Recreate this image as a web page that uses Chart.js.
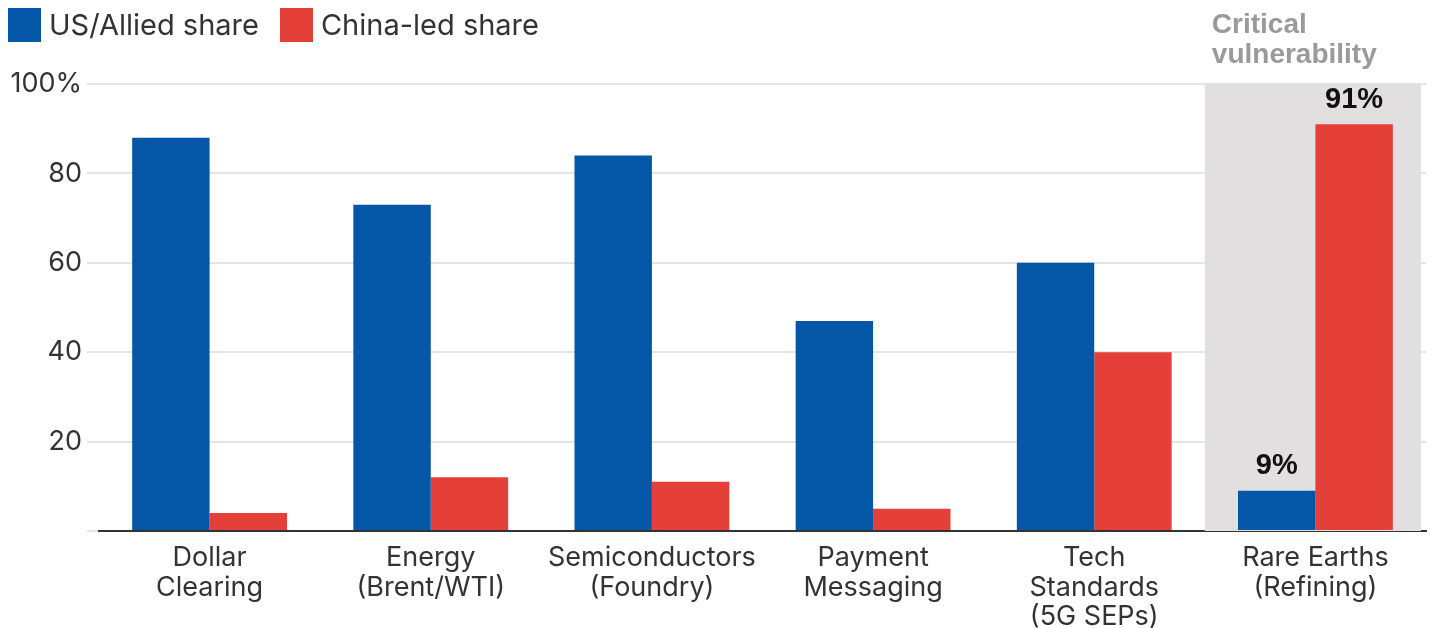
<!DOCTYPE html>
<html>
<head>
<meta charset="utf-8">
<script src="https://cdn.jsdelivr.net/npm/chart.js@4.4.1/dist/chart.umd.min.js"></script>
<style>
  html, body { margin: 0; padding: 0; background: #fff; }
  #wrap { position: relative; width: 1430px; height: 628px; }
  #legend { position: absolute; left: 8px; top: 8px; display: flex; align-items: center;
    font-family: Inter, "Liberation Sans", sans-serif; font-size: 29px; color: #333; line-height: 34px; }
  #legend .sw { width: 33px; height: 34px; display: inline-block; margin-right: 8px; }
  #legend .item { display: flex; align-items: center; margin-right: 21px; }
</style>
</head>
<body>
<div id="wrap">
  <canvas id="chart" width="1430" height="628"></canvas>
  <div id="legend"></div>
</div>
<script>
// ============================
// DATA
// ============================
const categories = [
  ["Dollar", "Clearing"],
  ["Energy", "(Brent/WTI)"],
  ["Semiconductors", "(Foundry)"],
  ["Payment", "Messaging"],
  ["Tech", "Standards", "(5G SEPs)"],
  ["Rare Earths", "(Refining)"]
];
const seriesNames = ["US/Allied share", "China-led share"];
const alliedShare = [88, 73, 84, 47, 60, 9];
const chinaShare = [4, 12, 11, 5, 40, 91];
const yTicks = [0, 20, 40, 60, 80, 100];
const highlightIndex = 5;
const highlightNote = ["Critical", "vulnerability"];

const BLUE = "#0457a6";
const RED = "#e53f3a";

// ============================
// LEGEND (html)
// ============================
document.getElementById("legend").innerHTML = seriesNames.map((n, i) => `
  <div class="item"><span class="sw" style="background:${i ? RED : BLUE}"></span>${n}</div>
`).join("");

// ============================
// PLUGINS
// ============================
const highlightPlugin = {
  id: "highlight",
  beforeDatasetsDraw(chart) {
    const { ctx, chartArea, scales } = chart;
    const x = scales.x;
    const half = (x.getPixelForValue(1) - x.getPixelForValue(0)) / 2;
    const cx = x.getPixelForValue(highlightIndex);
    ctx.save();
    ctx.fillStyle = "#e1dfe0";
    ctx.fillRect(cx - half, chartArea.top, half * 2 - 5, chartArea.bottom - chartArea.top);
    ctx.fillStyle = "#9a9a9a";
    ctx.font = "bold 28px 'Liberation Sans', Arial, sans-serif";
    ctx.textBaseline = "middle";
    ctx.textAlign = "left";
    highlightNote.forEach((t, i) => ctx.fillText(t, cx - half + 7, 25 + i * 30));
    ctx.restore();
  },
  afterDatasetsDraw(chart) {
    const { ctx } = chart;
    ctx.save();
    ctx.fillStyle = "#111";
    ctx.font = "bold 29px 'Liberation Sans', Arial, sans-serif";
    ctx.textAlign = "center";
    ctx.textBaseline = "bottom";
    chart.data.datasets.forEach((ds, di) => {
      const bar = chart.getDatasetMeta(di).data[highlightIndex];
      ctx.fillText(ds.data[highlightIndex] + "%", bar.x, bar.y - 10);
    });
    ctx.restore();
  }
};

// ============================
// CHART
// ============================
new Chart(document.getElementById("chart"), {
  type: "bar",
  data: {
    labels: categories,
    datasets: [
      { label: seriesNames[0], data: alliedShare, backgroundColor: BLUE },
      { label: seriesNames[1], data: chinaShare, backgroundColor: RED }
    ]
  },
  options: {
    responsive: false,
    animation: false,
    layout: { padding: { top: 84, right: 4, left: 0, bottom: 0 } },
    datasets: { bar: { categoryPercentage: 0.7, barPercentage: 1.0 } },
    plugins: { legend: { display: false }, tooltip: { enabled: false } },
    scales: {
      x: {
        grid: { display: false },
        border: { display: true, color: "#333", width: 2 },
        ticks: {
          color: "#333",
          font: { family: "Inter, 'Liberation Sans', sans-serif", size: 27, lineHeight: 1.1 },
          padding: 4,
          maxRotation: 0,
          autoSkip: false
        },
        afterFit(scale) { scale.height = 97; }
      },
      y: {
        min: 0,
        max: 100,
        afterBuildTicks(scale) { scale.ticks = yTicks.map(v => ({ value: v })); },
        grid: { color: "#e4e4e4", lineWidth: 2, drawTicks: true, tickLength: 12, tickColor: "#e4e4e4" },
        border: { display: false },
        ticks: {
          color: "#333",
          font: { family: "Inter, 'Liberation Sans', sans-serif", size: 27 },
          padding: 5,
          callback: v => v === 0 ? "" : (v === 100 ? "100%" : v)
        },
        afterFit(scale) { scale.width = 99; }
      }
    }
  },
  plugins: [highlightPlugin]
});
</script>
</body>
</html>
